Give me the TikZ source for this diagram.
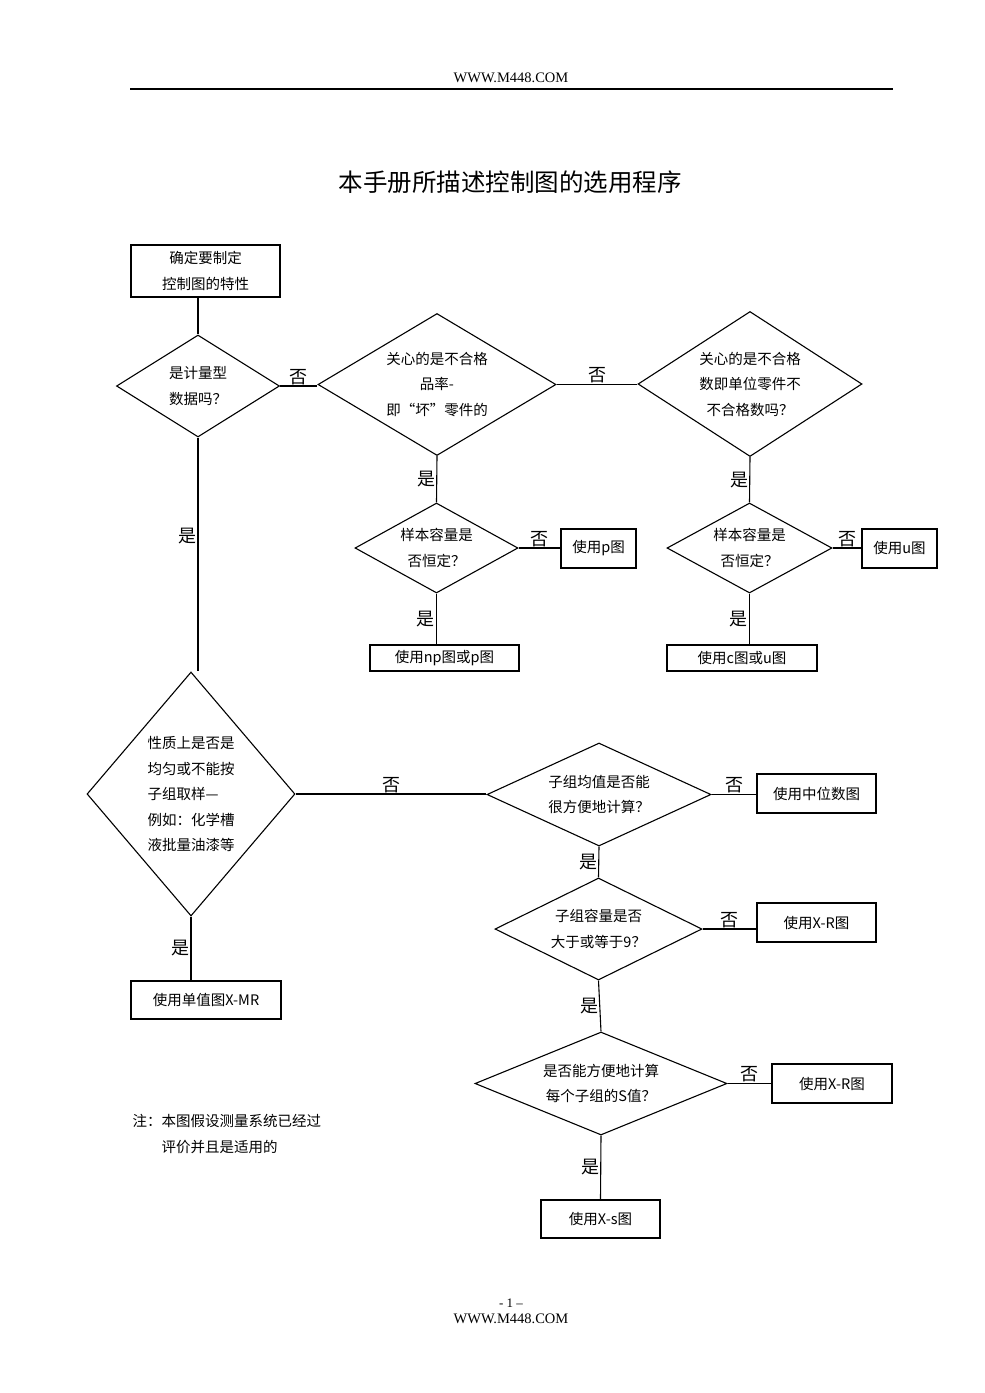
\documentclass[tikz,border=0pt]{standalone}
\usepackage{fontspec}
\setmainfont{Liberation Serif}
\newfontfamily\cjk{Noto Sans CJK SC}
\usetikzlibrary{shapes.geometric, positioning}

\begin{document}
\begin{tikzpicture}[x=1pt, y=-1pt, line width=1.1pt]
\tikzstyle{block} = [rectangle, draw, inner sep=0pt, align=center, font=\cjk\fontsize{14.5pt}{25.5pt}\selectfont]
\tikzstyle{decision} = [diamond, draw, inner sep=0pt, align=center, font=\cjk\fontsize{14.5pt}{25.5pt}\selectfont]
\tikzstyle{line} = [draw]
\tikzstyle{yn} = [font=\cjk\fontsize{18pt}{18pt}\selectfont, inner sep=1pt]
\useasboundingbox (0,0) rectangle (985,1393);
% page header and title
\node [font=\fontsize{14.5pt}{14.5pt}\selectfont] (head) at (511,78) {WWW.M448.COM};
\draw [line width=1.3pt] (130,89) -- (893,89);
\node [font=\cjk\fontsize{24.5pt}{24.5pt}\selectfont] (title) at (510,182) {本手册所描述控制图的选用程序};
% upper part
\node [block, minimum width=149, minimum height=52] (start) at (205.5,271) {确定要制定\\控制图的特性};
\node [decision, minimum width=163, minimum height=102, shape aspect=1.6] (var) at (198,386) {是计量型\\数据吗？};
\node [decision, minimum width=238, minimum height=142, shape aspect=1.68] (rate) at (437,384.5) {关心的是不合格\\品率-\\即“坏”零件的};
\node [decision, minimum width=224, minimum height=145, shape aspect=1.55] (count) at (750,384) {关心的是不合格\\数即单位零件不\\不合格数吗？};
\node [decision, minimum width=163, minimum height=90, shape aspect=1.8] (sizep) at (436.5,548) {样本容量是\\否恒定？};
\node [decision, minimum width=165, minimum height=90, shape aspect=1.83] (sizeu) at (749.5,548) {样本容量是\\否恒定？};
\node [block, minimum width=75, minimum height=39] (pchart) at (598.5,548.5) {使用p图};
\node [block, minimum width=149, minimum height=26] (npchart) at (444.5,658) {使用np图或p图};
\node [block, minimum width=75, minimum height=39] (uchart) at (899.5,548.5) {使用u图};
\node [block, minimum width=150, minimum height=26] (cchart) at (742,658) {使用c图或u图};
% lower part
\node [decision, minimum width=208, minimum height=244, shape aspect=0.85, align=left] (homog) at (191,794) {性质上是否是\\均匀或不能按\\子组取样—\\例如：化学槽\\液批量油漆等};
\node [block, minimum width=150, minimum height=38] (xmr) at (206,1000) {使用单值图X-MR};
\node [decision, minimum width=224, minimum height=103, shape aspect=2.17] (mean) at (599,794.5) {子组均值是否能\\很方便地计算？};
\node [block, minimum width=119, minimum height=39] (median) at (816.5,793.5) {使用中位数图};
\node [decision, minimum width=207, minimum height=102, shape aspect=2.03] (nine) at (598.5,929) {子组容量是否\\大于或等于9？};
\node [block, minimum width=119, minimum height=39] (xr1) at (816.5,922.5) {使用X-R图};
\node [decision, minimum width=252, minimum height=103, shape aspect=2.45] (sval) at (601,1083.5) {是否能方便地计算\\每个子组的S值？};
\node [block, minimum width=120, minimum height=39] (xr2) at (832,1083.5) {使用X-R图};
\node [block, minimum width=119, minimum height=38] (xs) at (600.5,1219) {使用X-s图};
% connectors
\path [line] (start.south -| var.north) -- (var.north);
\path [line] (var.east) -- node [yn, above] {否} (var.east -| rate.west);
\path [line] (rate.east) -- node [yn, above] {否} (rate.east -| count.west);
\path [line] (rate.south) -- node [yn, left] {是} (sizep.north);
\path [line] (count.south) -- node [yn, left] {是} (sizeu.north);
\path [line] (sizep.east) -- node [yn, above] {否} (sizep.east -| pchart.west);
\path [line] (sizep.south) -- node [yn, left] {是} (sizep.south |- npchart.north);
\path [line] (sizeu.east) -- node [yn, above] {否} (sizeu.east -| uchart.west);
\path [line] (sizeu.south) -- node [yn, left] {是} (sizeu.south |- cchart.north);
\path [line] (var.south) -- node [yn, left, pos=0.42] {是} (var.south |- homog.north);
\path [line] (homog.south) -- node [yn, left] {是} (homog.south |- xmr.north);
\path [line] (homog.east) -- node [yn, above] {否} (homog.east -| mean.west);
\path [line] (mean.east) -- node [yn, above] {否} (mean.east -| median.west);
\path [line] (mean.south) -- node [yn, left] {是} (nine.north);
\path [line] (nine.east) -- node [yn, above] {否} (nine.east -| xr1.west);
\path [line] (nine.south) -- node [yn, left] {是} (sval.north);
\path [line] (sval.east) -- node [yn, above] {否} (sval.east -| xr2.west);
\path [line] (sval.south) -- node [yn, left] {是} (xs.north);
% note and footer
\node [anchor=north west, inner sep=0pt, align=left, font=\cjk\fontsize{14.5pt}{26pt}\selectfont] (note) at (132,1114) {注：本图假设测量系统已经过\\\hspace*{2em}评价并且是适用的};
\node [font=\fontsize{13pt}{13pt}\selectfont] (pageno) at (511,1303) {- 1 –};
\node [font=\fontsize{14.5pt}{14.5pt}\selectfont] (foot) at (511,1319) {WWW.M448.COM};
\end{tikzpicture}
\end{document}
